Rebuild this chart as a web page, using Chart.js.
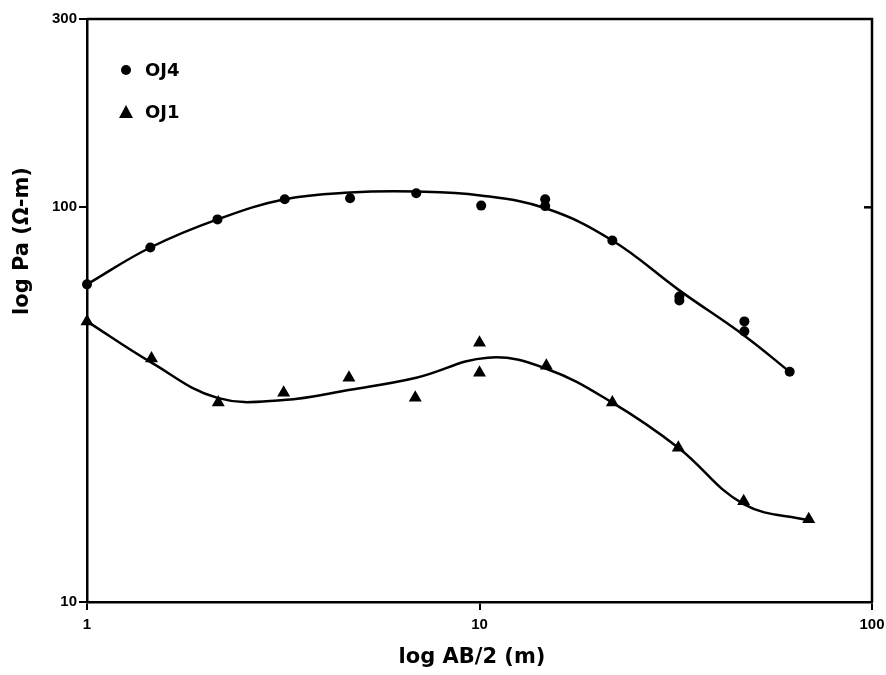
<!DOCTYPE html>
<html>
<head>
<meta charset="utf-8">
<script src="https://cdn.jsdelivr.net/npm/chart.js@4.4.1/dist/chart.umd.min.js"></script>
<style>
  body { margin: 0; background: #fff; }
  #wrap { width: 886px; height: 675px; }
</style>
</head>
<body>
<div id="wrap"><canvas id="sounding" width="886" height="675"></canvas></div>
<script>
const oj4X = [1, 1.45, 2.15, 3.19, 4.68, 6.9, 10.1, 14.7, 14.7, 21.8, 32.3, 32.3, 47.3, 47.3, 61.7];
const oj4Y = [63.8, 79.1, 93.2, 104.8, 105.4, 108.6, 101, 104.8, 100.7, 82.4, 59.4, 58.1, 51.4, 48.5, 38.3];
const oj1X = [1, 1.46, 2.16, 3.17, 4.65, 6.86, 10.0, 10.0, 14.8, 21.8, 32.1, 47.1, 69.0];
const oj1Y = [51.4, 41.4, 32.0, 33.9, 37.0, 32.9, 45.4, 38.1, 39.7, 32.0, 24.6, 18.0, 16.2];

// hand drawn fit curves
const oj4CurveX = [1, 1.45, 2.15, 3.19, 4.68, 6.9, 10.05, 14.8, 21.8, 32.3, 47.3, 61.7];
const oj4CurveY = [63.8, 79.1, 93.2, 104.8, 109.0, 109.6, 107.2, 99.3, 82.4, 61.6, 47.3, 38.3];
const oj1CurveX = [1, 1.46, 2.15, 3.17, 4.68, 6.9, 10.5, 14.8, 21.8, 32.1, 47.1, 69.0];
const oj1CurveY = [51.4, 40.4, 32.9, 32.5, 34.5, 37.0, 41.6, 39.0, 32.0, 24.6, 17.7, 16.1];

const xTicks = [1, 10, 100];
const yTicks = [10, 100, 300];

function pts(xs, ys) {
    return xs.map(function (x, i) { return { x: x, y: ys[i] }; });
}

var tickFont = { family: "'Liberation Sans Narrow', 'Liberation Sans', Arial", size: 15, weight: 'bold' };

// frame, titles and the little legend box
var decor = {
    id: 'decor',
    afterDraw: function (chart) {
        var ctx = chart.ctx, a = chart.chartArea;
        var ys = chart.scales.y;
        ctx.save();
        ctx.strokeStyle = '#000';
        ctx.lineWidth = 2.5;
        ctx.beginPath();
        ctx.moveTo(a.left, a.top);
        ctx.lineTo(a.right, a.top);
        ctx.lineTo(a.right, a.bottom);
        ctx.stroke();
        // inward tick on right border at 100
        var y100 = ys.getPixelForValue(100);
        ctx.beginPath();
        ctx.moveTo(a.right, y100);
        ctx.lineTo(a.right - 8, y100);
        ctx.stroke();

        ctx.fillStyle = '#000';
        ctx.font = "bold 21px 'DejaVu Sans'";
        ctx.textAlign = 'center';
        ctx.textBaseline = 'middle';
        ctx.fillText('log AB/2 (m)', 472, 658);
        ctx.save();
        ctx.translate(23, 241);
        ctx.rotate(-Math.PI / 2);
        ctx.fillText('log Pa (Ω-m)', 0, 0);
        ctx.restore();

        // legend
        ctx.beginPath();
        ctx.arc(126, 70, 5, 0, Math.PI * 2);
        ctx.fill();
        ctx.beginPath();
        ctx.moveTo(126, 105);
        ctx.lineTo(133, 118);
        ctx.lineTo(119, 118);
        ctx.closePath();
        ctx.fill();
        ctx.font = "bold 18px 'DejaVu Sans'";
        ctx.textAlign = 'left';
        ctx.fillText('OJ4', 145, 71);
        ctx.fillText('OJ1', 145, 113);
        ctx.restore();
    }
};

var ctx = document.getElementById('sounding');
var chart = new Chart(ctx, {
    type: 'scatter',
    data: {
        datasets: [{
            label: 'OJ4 fit',
            type: 'line',
            data: pts(oj4CurveX, oj4CurveY),
            borderColor: '#000',
            borderWidth: 2.5,
            pointRadius: 0,
            tension: 0.4,
            fill: false,
            clip: false
        }, {
            label: 'OJ1 fit',
            type: 'line',
            data: pts(oj1CurveX, oj1CurveY),
            borderColor: '#000',
            borderWidth: 2.5,
            pointRadius: 0,
            tension: 0.4,
            fill: false,
            clip: false
        }, {
            label: 'OJ4',
            data: pts(oj4X, oj4Y),
            pointStyle: 'circle',
            pointRadius: 5,
            backgroundColor: '#000',
            borderColor: '#000',
            borderWidth: 0,
            clip: false
        }, {
            label: 'OJ1',
            data: pts(oj1X, oj1Y),
            pointStyle: 'triangle',
            pointRadius: 7.5,
            backgroundColor: '#000',
            borderColor: '#000',
            borderWidth: 0,
            clip: false
        }]
    },
    options: {
        responsive: false,
        animation: false,
        layout: { padding: { top: 19, right: 14, left: 0, bottom: 0 } },
        plugins: { legend: { display: false }, tooltip: { enabled: false } },
        scales: {
            x: {
                type: 'logarithmic',
                min: 1,
                max: 100,
                afterBuildTicks: function (s) { s.ticks = xTicks.map(function (v) { return { value: v }; }); },
                afterFit: function (s) { s.height = 73; s.paddingRight = 0; s.paddingLeft = 0; },
                ticks: {
                    color: '#000',
                    font: tickFont,
                    padding: 6,
                    maxRotation: 0,
                    callback: function (v) { return String(v); }
                },
                grid: { drawOnChartArea: false, color: '#000', lineWidth: 2, tickLength: 8 },
                border: { color: '#000', width: 2.5 }
            },
            y: {
                type: 'logarithmic',
                min: 10,
                max: 300,
                afterBuildTicks: function (s) { s.ticks = yTicks.map(function (v) { return { value: v }; }); },
                afterFit: function (s) { s.width = 87; },
                ticks: {
                    color: '#000',
                    font: tickFont,
                    padding: 2,
                    callback: function (v) { return String(v); }
                },
                grid: { drawOnChartArea: false, color: '#000', lineWidth: 2, tickLength: 8 },
                border: { color: '#000', width: 2.5 }
            }
        }
    },
    plugins: [decor]
});
</script>
</body>
</html>
